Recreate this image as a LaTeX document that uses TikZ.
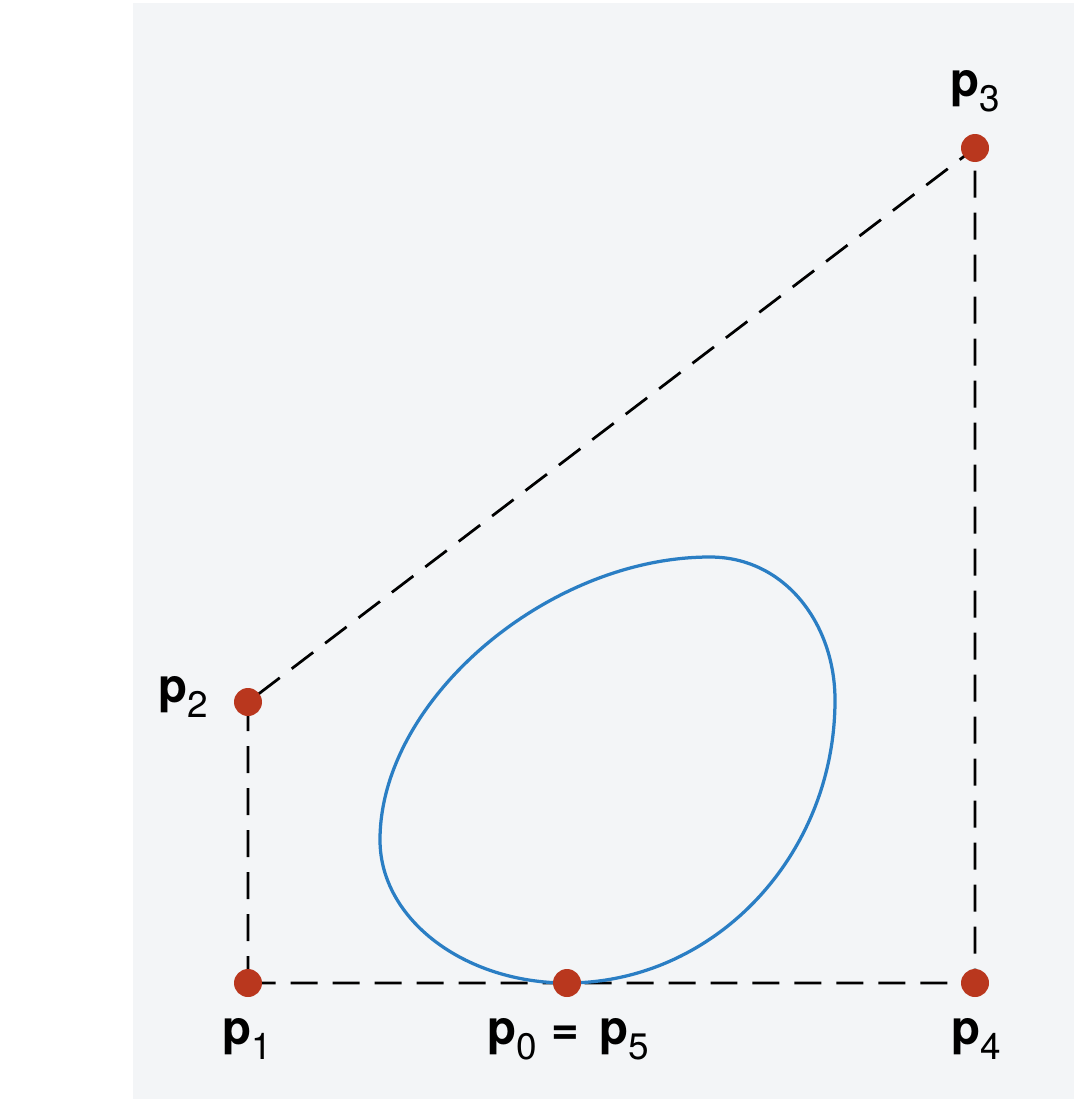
\documentclass[tikz,border=0pt]{standalone}
\usepackage{fontspec}
\setmainfont{TeX Gyre Heros}
\definecolor{paper}{RGB}{243,245,247}
\definecolor{dotred}{RGB}{185,55,30}
\definecolor{curveblue}{RGB}{42,126,196}
\newcommand{\ptlabel}[1]{\textbf{p}\raisebox{-0.6ex}{\fontsize{21}{21}\selectfont #1}}
\begin{document}
\begin{tikzpicture}[
x=0.02cm, y=-0.02cm,
hull/.style={draw=black, line width=0.055cm, dash pattern=on 0.54cm off 0.3cm},
curve/.style={draw=curveblue, line width=0.065cm},
ctrl/.style={circle, fill=dotred, inner sep=0pt, minimum size=0.56cm},
ptlab/.style={inner sep=0pt, font=\fontsize{27}{27}\selectfont},
]
  \fill[white] (0,0) rectangle (1074,1099);
  \fill[paper] (133,3) rectangle (1074,1099);

  \coordinate (p0) at (567,983);
  \coordinate (p1) at (248,983);
  \coordinate (p2) at (248,702);
  \coordinate (p3) at (975,148);
  \coordinate (p4) at (975,983);
  \coordinate (cL) at (380,840);
  \coordinate (cT) at (710,557);
  \coordinate (cR) at (835,700);

  \draw[hull] (p1) -- (p2) -- (p3) -- (p4) -- (p1);

  \draw[curve] (p0) .. controls (464,983) and (380,919) .. (cL)
    .. controls (380,700) and (548,557) .. (cT)
    .. controls (785,557) and (835,624) .. (cR)
    .. controls (835,856) and (714,983) .. (p0);

  \node[ctrl] (d0) at (p0) {};
  \node[ctrl] (d1) at (p1) {};
  \node[ctrl] (d2) at (p2) {};
  \node[ctrl] (d3) at (p3) {};
  \node[ctrl] (d4) at (p4) {};

  \node[ptlab] (l1) at (247,1039) {\ptlabel{1}};
  \node[ptlab] (l2) at (183,697) {\ptlabel{2}};
  \node[ptlab] (l3) at (975,91) {\ptlabel{3}};
  \node[ptlab] (l4) at (976,1039) {\ptlabel{4}};
  \node[ptlab] (l05) at (568,1039) {\ptlabel{0}\hspace{0.3cm}\textbf{=}\hspace{0.4cm}\ptlabel{5}};
\end{tikzpicture}
\end{document}
